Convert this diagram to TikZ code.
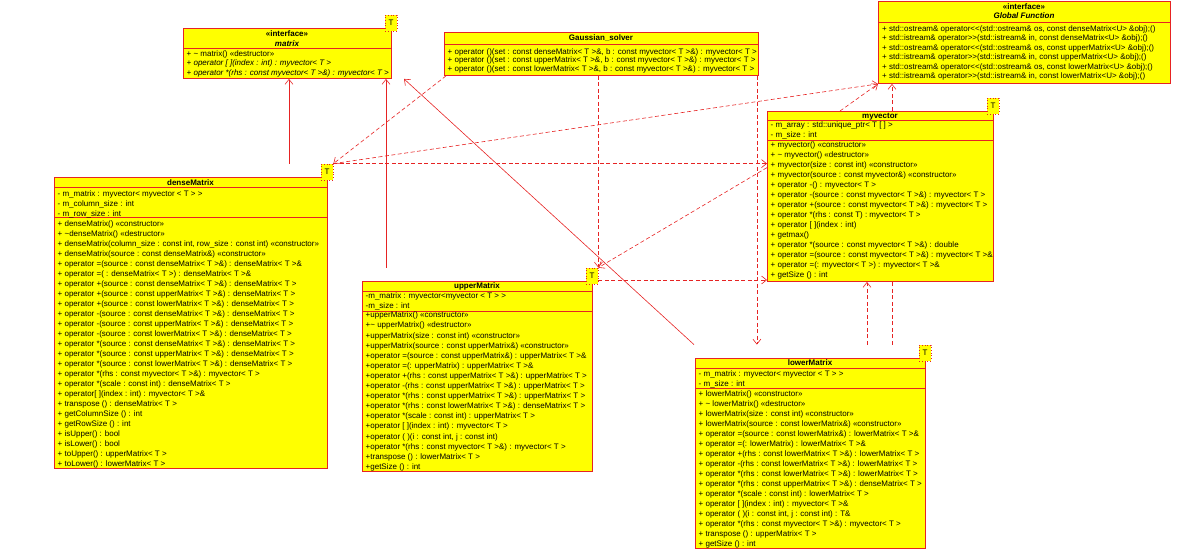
\documentclass[tikz,border=0pt]{standalone}
\usepackage{fontspec}
\setmainfont{Liberation Sans}
\usetikzlibrary{arrows.meta}
\definecolor{umlred}{RGB}{230,35,35}
\definecolor{umlyel}{RGB}{255,255,0}
\pgfdeclarelayer{bg}
\pgfsetlayers{bg,main}
\newcommand{\tld}{\textasciitilde}
\tikzset{
 cls/.style={draw=umlred, fill=umlyel, line width=0.9pt, inner sep=0pt, anchor=north west},
 divl/.style={draw=umlred, line width=0.8pt},
 txt/.style={anchor=north west, inner sep=0pt, align=left, font=\fontsize{8}{10}\selectfont},
 ttl/.style={anchor=base, inner sep=0pt, font=\fontsize{8}{10}\selectfont\bfseries},
 tbadge/.style={draw=umlred, dotted, line width=0.8pt, fill=umlyel, minimum width=12pt, minimum height=16pt, inner sep=0pt, font=\fontsize{8}{10}\selectfont},
 conn/.style={draw=umlred, line width=0.6pt},
 dep/.style={conn, dash pattern=on 4pt off 2.5pt, -{Straight Barb[length=5pt,width=8pt]}},
 gen/.style={conn, -{Straight Barb[length=5pt,width=8pt]}},
}
\begin{document}
\begin{tikzpicture}[x=1pt,y=-1pt]
\useasboundingbox (0,0) rectangle (1201,551);

% ---------- matrix (interface)
\node[cls, minimum width=208, minimum height=50] (matrix) at (183,28) {};
\draw[divl] (matrix.west |- 0,48) -- (matrix.east |- 0,48);
\node[ttl] (matrix-s) at (287,36.9) {«interface»};
\node[ttl, font=\fontsize{8}{10}\selectfont\bfseries\itshape] (matrix-n) at (287,46.2) {matrix};
\node[txt, font=\fontsize{8}{9.7}\selectfont] (matrix-o) at (186.5,50.1) {+ \tld{} matrix() «destructor»\\
\textit{+ operator [ ](index : int) : myvector< T >}\\
\textit{+ operator *(rhs : const myvector< T >\&) : myvector< T >}};
\node[tbadge] (matrixT) at (391,23) {T};

% ---------- Gaussian_solver
\node[cls, minimum width=314, minimum height=43] (gauss) at (444,32) {};
\draw[divl] (gauss.west |- 0,44) -- (gauss.east |- 0,44);
\node[ttl] (gauss-n) at (601,40.6) {Gaussian\_solver};
\node[txt, font=\fontsize{8}{8.4}\selectfont] (gauss-o) at (447.5,48.5) {+ operator ()(set : const denseMatrix< T >\&, b : const myvector< T >\&) : myvector< T >\\
+ operator ()(set : const upperMatrix< T >\&, b : const myvector< T >\&) : myvector< T >\\
+ operator ()(set : const lowerMatrix< T >\&, b : const myvector< T >\&) : myvector< T >};

% ---------- Global Function (interface)
\node[cls, minimum width=292, minimum height=82] (global) at (878,1) {};
\draw[divl] (global.west |- 0,22) -- (global.east |- 0,22);
\node[ttl] (global-s) at (1024,9.9) {«interface»};
\node[ttl, font=\fontsize{8}{10}\selectfont\bfseries\itshape] (global-n) at (1024,18.9) {Global Function};
\node[txt, font=\fontsize{8}{9.5}\selectfont] (global-o) at (882,25.1) {+ std::ostream\& operator<{}<(std::ostream\& os, const denseMatrix<U> \&obj);()\\
+ std::istream\& operator>{}>(std::istream\& in, const denseMatrix<U> \&obj);()\\
+ std::ostream\& operator<{}<(std::ostream\& os, const upperMatrix<U> \&obj);()\\
+ std::istream\& operator>{}>(std::istream\& in, const upperMatrix<U> \&obj);()\\
+ std::ostream\& operator<{}<(std::ostream\& os, const lowerMatrix<U> \&obj);()\\
+ std::istream\& operator>{}>(std::istream\& in, const lowerMatrix<U> \&obj);()};

% ---------- myvector
\node[cls, minimum width=226, minimum height=170] (myvec) at (767,111) {};
\draw[divl] (myvec.west |- 0,120) -- (myvec.east |- 0,120);
\draw[divl] (myvec.west |- 0,140) -- (myvec.east |- 0,140);
\node[ttl] (myvec-n) at (880,118.4) {myvector};
\node[txt] (myvec-a) at (770.5,121.8) {- m\_array : std::unique\_ptr< T [ ] >\\
- m\_size : int};
\node[txt] (myvec-o) at (770.5,141.8) {+ myvector() «constructor»\\
+ \tld{} myvector() «destructor»\\
+ myvector(size : const int) «constructor»\\
+ myvector(source : const myvector\&) «constructor»\\
+ operator -() : myvector< T >\\
+ operator -(source : const myvector< T >\&) : myvector< T >\\
+ operator +(source : const myvector< T >\&) : myvector< T >\\
+ operator *(rhs : const T) : myvector< T >\\
+ operator [ ](index : int)\\
+ getmax()\\
+ operator *(source : const myvector< T >\&) : double\\
+ operator =(source : const myvector< T >\&) : myvector< T >\&\\
+ operator =(: myvector< T >) : myvector< T >\&\\
+ getSize () : int};
\node[tbadge] (myvecT) at (993,106) {T};

% ---------- denseMatrix
\node[cls, minimum width=273, minimum height=291] (dense) at (54,177) {};
\draw[divl] (dense.west |- 0,187) -- (dense.east |- 0,187);
\draw[divl] (dense.west |- 0,217) -- (dense.east |- 0,217);
\node[ttl] (dense-n) at (190.5,185.5) {denseMatrix};
\node[txt] (dense-a) at (57.5,190.1) {- m\_matrix : myvector< myvector < T > >\\
- m\_column\_size : int\\
- m\_row\_size : int};
\node[txt] (dense-o) at (57.5,220.1) {+ denseMatrix() «constructor»\\
+ \tld denseMatrix() «destructor»\\
+ denseMatrix(column\_size : const int, row\_size : const int) «constructor»\\
+ denseMatrix(source : const denseMatrix\&) «constructor»\\
+ operator =(source : const denseMatrix< T >\&) : denseMatrix< T >\&\\
+ operator =( : denseMatrix< T >) : denseMatrix< T >\&\\
+ operator +(source : const denseMatrix< T >\&) : denseMatrix< T >\\
+ operator +(source : const upperMatrix< T >\&) : denseMatrix< T >\\
+ operator +(source : const lowerMatrix< T >\&) : denseMatrix< T >\\
+ operator -(source : const denseMatrix< T >\&) : denseMatrix< T >\\
+ operator -(source : const upperMatrix< T >\&) : denseMatrix< T >\\
+ operator -(source : const lowerMatrix< T >\&) : denseMatrix< T >\\
+ operator *(source : const denseMatrix< T >\&) : denseMatrix< T >\\
+ operator *(source : const upperMatrix< T >\&) : denseMatrix< T >\\
+ operator *(source : const lowerMatrix< T >\&) : denseMatrix< T >\\
+ operator *(rhs : const myvector< T >\&) : myvector< T >\\
+ operator *(scale : const int) : denseMatrix< T >\\
+ operator[ ](index : int) : myvector< T >\&\\
+ transpose () : denseMatrix< T >\\
+ getColumnSize () : int\\
+ getRowSize () : int\\
+ isUpper() : bool\\
+ isLower() : bool\\
+ toUpper() : upperMatrix< T >\\
+ toLower() : lowerMatrix< T >};
\node[tbadge] (denseT) at (327,172) {T};

% ---------- upperMatrix
\node[cls, minimum width=230, minimum height=190] (upper) at (362,281) {};
\draw[divl] (upper.west |- 0,291) -- (upper.east |- 0,291);
\draw[divl] (upper.west |- 0,311) -- (upper.east |- 0,311);
\node[ttl] (upper-n) at (477,288.6) {upperMatrix};
\node[txt, font=\fontsize{8}{9.5}\selectfont] (upper-a) at (365.5,292.8) {-m\_matrix : myvector<myvector < T > >\\
-m\_size : int};
\node[txt, font=\fontsize{8}{10.1}\selectfont] (upper-o) at (365.5,311.8) {+upperMatrix() «constructor»\\
+\tld{} upperMatrix() «destructor»\\
+upperMatrix(size : const int) «constructor»\\
+upperMatrix(source : const upperMatrix\&) «constructor»\\
+operator =(source : const upperMatrix\&) : upperMatrix< T >\&\\
+operator =(: upperMatrix) : upperMatrix< T >\&\\
+operator +(rhs : const upperMatrix< T >\&) : upperMatrix< T >\\
+operator -(rhs : const upperMatrix< T >\&) : upperMatrix< T >\\
+operator *(rhs : const upperMatrix< T >\&) : upperMatrix< T >\\
+operator *(rhs : const lowerMatrix< T >\&) : denseMatrix< T >\\
+operator *(scale : const int) : upperMatrix< T >\\
+operator [ ](index : int) : myvector< T >\\
+operator ( )(i : const int, j : const int)\\
+operator *(rhs : const myvector< T >\&) : myvector< T >\\
+transpose () : lowerMatrix< T >\\
+getSize () : int};
\node[tbadge] (upperT) at (592,276) {T};

% ---------- lowerMatrix
\node[cls, minimum width=230, minimum height=190] (lower) at (695,358) {};
\draw[divl] (lower.west |- 0,368) -- (lower.east |- 0,368);
\draw[divl] (lower.west |- 0,388) -- (lower.east |- 0,388);
\node[ttl] (lower-n) at (810,365.6) {lowerMatrix};
\node[txt] (lower-a) at (698.5,370.1) {- m\_matrix : myvector< myvector < T > >\\
- m\_size : int};
\node[txt, font=\fontsize{8}{10.05}\selectfont] (lower-o) at (698.5,390.1) {+ lowerMatrix() «constructor»\\
+ \tld{} lowerMatrix() «destructor»\\
+ lowerMatrix(size : const int) «constructor»\\
+ lowerMatrix(source : const lowerMatrix\&) «constructor»\\
+ operator =(source : const lowerMatrix\&) : lowerMatrix< T >\&\\
+ operator =(: lowerMatrix) : lowerMatrix< T >\&\\
+ operator +(rhs : const lowerMatrix< T >\&) : lowerMatrix< T >\\
+ operator -(rhs : const lowerMatrix< T >\&) : lowerMatrix< T >\\
+ operator *(rhs : const lowerMatrix< T >\&) : lowerMatrix< T >\\
+ operator *(rhs : const upperMatrix< T >\&) : denseMatrix< T >\\
+ operator *(scale : const int) : lowerMatrix< T >\\
+ operator [ ](index : int) : myvector< T >\&\\
+ operator ( )(i : const int, j : const int) : T\&\\
+ operator *(rhs : const myvector< T >\&) : myvector< T >\\
+ transpose () : upperMatrix< T >\\
+ getSize () : int};
\node[tbadge] (lowerT) at (925,353) {T};

% ---------- helper coordinates
\coordinate (gL) at ([xshift=2pt]gauss.south west);
\coordinate (gR) at ([xshift=-2pt]gauss.south east);
\coordinate (uE) at ([yshift=-4pt]upperT.east);
\coordinate (vIn) at ([yshift=-4pt]myvec.west |- denseT.north);
\coordinate (vTop) at (myvec.north -| 840,0);

% ---------- connectors (behind the boxes)
\begin{pgfonlayer}{bg}
\draw[gen] (denseT.north -| 289,0) -- (matrix.south -| 289,0);
\draw[gen] (upperT.north -| 386,0) -- (matrix.south -| 386,0);
\draw[gen] (lowerT.north -| 694,0) -- (matrix.south -| 404,0);
\draw[dep] (gL) -- (denseT.north east);
\draw[dep] (gauss.south -| upperT.east) -- (upperT.north east);
\draw[dep] (gR) -- (gR |- lowerT.north);
\draw[dep] (denseT.north east) -- (denseT.north east -| myvec.west);
\draw[dep] (denseT.north east) -- (global.south west);
\draw[dep] (vIn) -- (upperT.north east);
\draw[dep] (uE) -- (uE -| myvec.west);
\draw[dep] (vTop) -- (global.south west);
\draw[dep] (lowerT.north -| 892,0) -- (global.south -| 892,0);
\draw[dep] (lowerT.north -| 867,0) -- (myvec.south -| 867,0);
\end{pgfonlayer}
\end{tikzpicture}
\end{document}
